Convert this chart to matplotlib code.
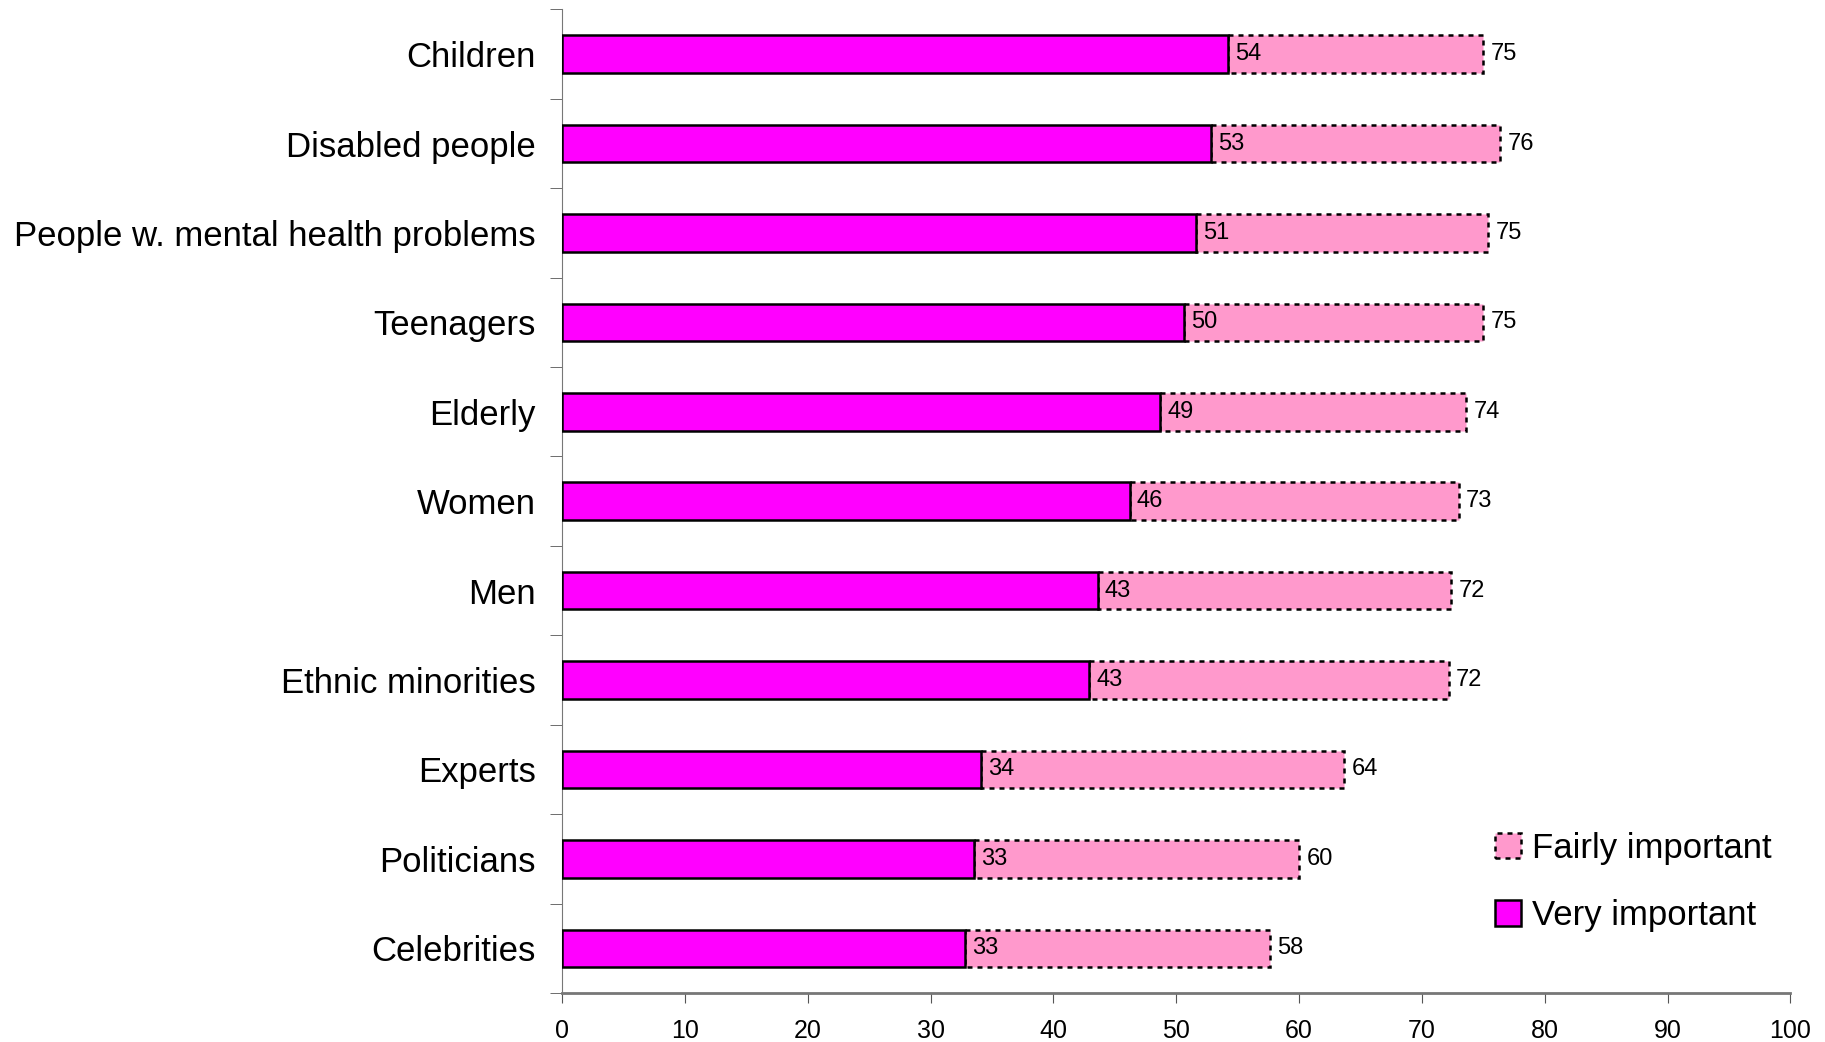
import matplotlib
matplotlib.use("Agg")
import matplotlib.pyplot as plt
import numpy as np

plt.rcParams['font.family'] = ['Liberation Sans', 'DejaVu Sans']

# Data (top to bottom)
groups = ["Children", "Disabled people", "People w. mental health problems",
          "Teenagers", "Elderly", "Women", "Men", "Ethnic minorities",
          "Experts", "Politicians", "Celebrities"]
very_important = [54.2, 52.8, 51.6, 50.6, 48.7, 46.2, 43.6, 42.9, 34.1, 33.5, 32.8]
very_labels = [54, 53, 51, 50, 49, 46, 43, 43, 34, 33, 33]
total_important = [75.0, 76.4, 75.4, 75.0, 73.6, 73.0, 72.4, 72.2, 63.7, 60.0, 57.6]
total_labels = [75, 76, 75, 75, 74, 73, 72, 72, 64, 60, 58]

magenta = "#FF00FF"
pink = "#FF99CC"

fig = plt.figure(figsize=(18.25, 10.42), dpi=100)
ax = fig.add_axes([0.308, 0.047, 0.673, 0.944])

y = np.arange(len(groups))
h = 0.42
fairly = np.array(total_important) - np.array(very_important)

ax.barh(y, fairly, left=very_important, height=h, color=pink,
        edgecolor="black", linestyle=(0, (2, 2)), linewidth=1.8,
        label="Fairly important", zorder=2)
ax.barh(y, very_important, height=h, color=magenta, edgecolor="black",
        linewidth=1.8, label="Very important", zorder=3)

for yi, v, vl, t, tl in zip(y, very_important, very_labels, total_important, total_labels):
    ax.text(v + 0.6, yi, str(vl), va="center", ha="left", fontsize=17, zorder=4)
    ax.text(t + 0.6, yi, str(tl), va="center", ha="left", fontsize=17, zorder=4)

ax.set_xlim(0, 100)
ax.set_ylim(len(groups) - 0.5, -0.5)
ax.set_xticks(np.arange(0, 101, 10))
ax.tick_params(axis="x", labelsize=18, length=7, color="#555555", pad=12)
ax.set_yticks(y)
ax.set_yticklabels(groups, fontsize=25)
ax.tick_params(axis="y", length=0, pad=19)
ax.set_yticks(np.arange(-0.5, len(groups), 1), minor=True)
ax.tick_params(axis="y", which="minor", length=9, color="#555555")

for s in ["top", "right"]:
    ax.spines[s].set_visible(False)
ax.spines["left"].set_color("#777777")
ax.spines["bottom"].set_color("#777777")
ax.spines["bottom"].set_linewidth(2)

handles, labels = ax.get_legend_handles_labels()
ax.legend(handles, labels, loc="lower right", bbox_to_anchor=(1.01, 0.03),
          frameon=False, fontsize=25, handlelength=0.75, handleheight=0.75,
          handletextpad=0.3, labelspacing=1.0)

fig.savefig("out.png", dpi=100)
